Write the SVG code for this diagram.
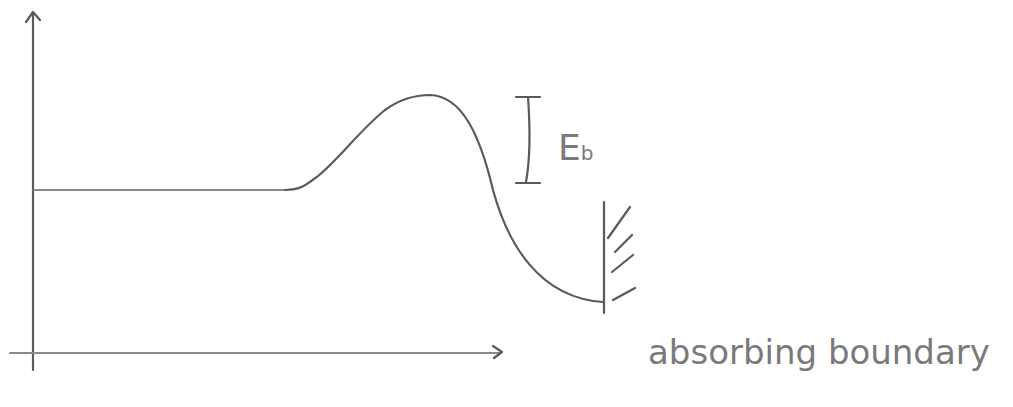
<svg xmlns="http://www.w3.org/2000/svg" width="1013" height="407" viewBox="0 0 1013 407">
<style>
.ln{fill:none;stroke:#5a5a5a;stroke-width:2.2;stroke-linecap:round;stroke-linejoin:round}
.thin{fill:none;stroke:#8a8a8a;stroke-width:1.8;stroke-linecap:round;stroke-linejoin:round}
.hand{font-family:"DejaVu Sans","Liberation Sans",sans-serif;fill:#7a7a7a}
</style>
<rect width="1013" height="407" fill="#ffffff"/>
<g id="axes">
<path class="ln" d="M33,13 L33,370"/>
<path class="ln" d="M26,22 L33,12 L40,20"/>
<path class="thin" d="M10,353 L500,353"/>
<path class="ln" d="M493,346 L502,352 L494,358"/>
</g>
<g id="curve">
<path class="thin" d="M34,190 L285,190"/>
<path class="ln" d="M285,190 C300,190 305,186 318,176 C340,158 360,130 385,110 C400,99 415,95 430,95 C462,96 480,135 493,190 C508,245 540,298 603,302"/>
</g>
<g id="barrier-label">
<path class="ln" d="M516,97 L540,97 M528,97 C530,125 530,160 526,182 M516,183 L540,183"/>
<text class="hand" x="558" y="160" font-size="36" fill="#6a6a6a">E<tspan font-size="20" dy="0">b</tspan></text>
</g>
<g id="boundary">
<path class="ln" d="M604,202 L604,313"/>
<path class="ln" d="M608,238 L630,207 M615,252 L632,235 M612,272 L633,255 M613,300 L635,288"/>
</g>
<text class="hand" x="648" y="364" font-size="34">absorbing boundary</text>
</svg>
